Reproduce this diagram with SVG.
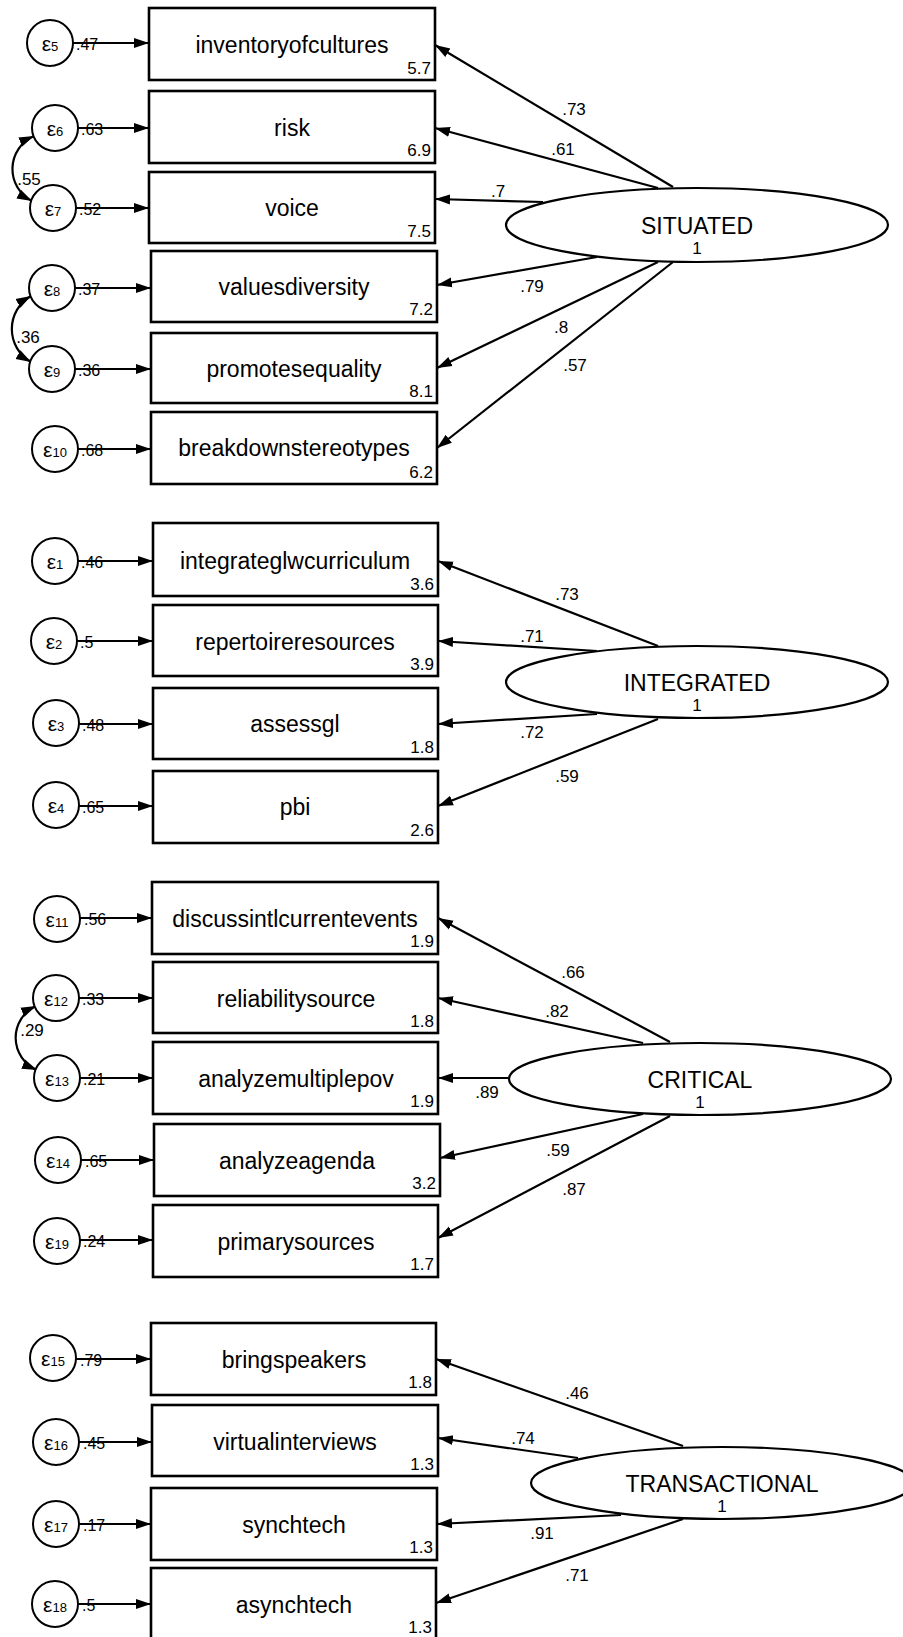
<svg xmlns="http://www.w3.org/2000/svg" width="903" height="1637" viewBox="0 0 903 1637">
<style>
text{font-family:"Liberation Sans",Arial,sans-serif;fill:#000}
.box{fill:#fff;stroke:#000;stroke-width:2.6}
.lat{fill:#fff;stroke:#000;stroke-width:2.2}
.err{fill:#fff;stroke:#000;stroke-width:2}
.lbl{font-size:23px;text-anchor:middle}
.val{font-size:17px;text-anchor:end}
.one{font-size:17px;text-anchor:middle}
.ld{font-size:17px;text-anchor:middle}
.el{font-size:16px}
.eps{text-anchor:middle;font-size:21px}
.sub{font-size:13px}
.c{fill:none;stroke:#000;stroke-width:2.2;marker-end:url(#ah)}
.cv{fill:none;stroke:#000;stroke-width:2.2;marker-start:url(#ah);marker-end:url(#ah)}
</style>
<defs>
<marker id="ah" markerUnits="userSpaceOnUse" markerWidth="16" markerHeight="12" refX="15" refY="6" orient="auto-start-reverse">
<path d="M0,1 L15,6 L0,11 Z" fill="#000"/>
</marker>
</defs>
<rect width="903" height="1637" fill="#fff"/>

<g id="connectors">
<!-- SITUATED factor loadings -->
<path class="c" d="M673,187 L435,45"/>
<path class="c" d="M658,188 L435,128"/>
<path class="c" d="M543,202 L435,199"/>
<path class="c" d="M597,257 L437,285"/>
<path class="c" d="M658,262 L437,368"/>
<path class="c" d="M673,262 L437,448"/>
<text class="ld" x="574" y="115">.73</text>
<text class="ld" x="563" y="155">.61</text>
<text class="ld" x="498" y="197">.7</text>
<text class="ld" x="532" y="292">.79</text>
<text class="ld" x="561" y="333">.8</text>
<text class="ld" x="575" y="371">.57</text>
<!-- SITUATED errors -->
<path class="c" d="M73,43 L149,43"/>
<path class="c" d="M78,128 L149,128"/>
<path class="c" d="M76,208 L149,208"/>
<path class="c" d="M75,288 L151,288"/>
<path class="c" d="M75,369 L151,369"/>
<path class="c" d="M78,449 L151,449"/>
<text class="el" x="76" y="50">.47</text>
<text class="el" x="81" y="135">.63</text>
<text class="el" x="79" y="215">.52</text>
<text class="el" x="78" y="295">.37</text>
<text class="el" x="78" y="376">.36</text>
<text class="el" x="81" y="456">.68</text>
<path class="cv" d="M34,136 A36,36 0 0 0 32,201"/>
<text class="ld" x="29" y="185">.55</text>
<path class="cv" d="M31,296 A38,38 0 0 0 31,362"/>
<text class="ld" x="28" y="343">.36</text>

<!-- INTEGRATED -->
<path class="c" d="M658,646 L438,561"/>
<path class="c" d="M597,651 L438,641"/>
<path class="c" d="M597,714 L438,724"/>
<path class="c" d="M658,719 L438,806"/>
<text class="ld" x="567" y="600">.73</text>
<text class="ld" x="532" y="642">.71</text>
<text class="ld" x="532" y="738">.72</text>
<text class="ld" x="567" y="782">.59</text>
<path class="c" d="M78,561 L153,561"/>
<path class="c" d="M77,641 L153,641"/>
<path class="c" d="M79,724 L153,724"/>
<path class="c" d="M79,806 L153,806"/>
<text class="el" x="81" y="568">.46</text>
<text class="el" x="80" y="648">.5</text>
<text class="el" x="82" y="731">.48</text>
<text class="el" x="82" y="813">.65</text>

<!-- CRITICAL -->
<path class="c" d="M670,1042 L438,918"/>
<path class="c" d="M643,1043 L438,998"/>
<path class="c" d="M509,1078 L438,1078"/>
<path class="c" d="M643,1114 L440,1158"/>
<path class="c" d="M670,1116 L438,1238"/>
<text class="ld" x="573" y="978">.66</text>
<text class="ld" x="557" y="1017">.82</text>
<text class="ld" x="487" y="1098">.89</text>
<text class="ld" x="558" y="1156">.59</text>
<text class="ld" x="574" y="1195">.87</text>
<path class="c" d="M80,918 L152,918"/>
<path class="c" d="M79,998 L153,998"/>
<path class="c" d="M80,1078 L153,1078"/>
<path class="c" d="M81,1160 L154,1160"/>
<path class="c" d="M80,1240 L153,1240"/>
<text class="el" x="84" y="925">.56</text>
<text class="el" x="82" y="1005">.33</text>
<text class="el" x="83" y="1085">.21</text>
<text class="el" x="85" y="1167">.65</text>
<text class="el" x="83" y="1247">.24</text>
<path class="cv" d="M36,1006 A35,35 0 0 0 37,1070"/>
<text class="ld" x="32" y="1036">.29</text>

<!-- TRANSACTIONAL -->
<path class="c" d="M683,1446 L436,1359"/>
<path class="c" d="M578,1458 L438,1438"/>
<path class="c" d="M621,1515 L437,1524"/>
<path class="c" d="M683,1519 L436,1603"/>
<text class="ld" x="577" y="1399">.46</text>
<text class="ld" x="523" y="1444">.74</text>
<text class="ld" x="542" y="1539">.91</text>
<text class="ld" x="577" y="1581">.71</text>
<path class="c" d="M76,1359 L151,1359"/>
<path class="c" d="M79,1442 L152,1442"/>
<path class="c" d="M79,1524 L151,1524"/>
<path class="c" d="M78,1604 L151,1604"/>
<text class="el" x="80" y="1366">.79</text>
<text class="el" x="83" y="1449">.45</text>
<text class="el" x="83" y="1531">.17</text>
<text class="el" x="82" y="1611">.5</text>
</g>

<!-- SITUATED nodes -->
<g id="SITUATED"><ellipse class="lat" cx="697" cy="225" rx="191" ry="37"/><text class="lbl" x="697" y="234">SITUATED</text><text class="one" x="697" y="254">1</text></g>
<g id="inventoryofcultures"><rect class="box" x="149" y="8" width="286" height="72"/><text class="lbl" x="292" y="53">inventoryofcultures</text><text class="val" x="431" y="74">5.7</text></g>
<g id="risk"><rect class="box" x="149" y="91" width="286" height="72"/><text class="lbl" x="292" y="136">risk</text><text class="val" x="431" y="156">6.9</text></g>
<g id="voice"><rect class="box" x="149" y="172" width="286" height="71"/><text class="lbl" x="292" y="216">voice</text><text class="val" x="431" y="237">7.5</text></g>
<g id="valuesdiversity"><rect class="box" x="151" y="251" width="286" height="71"/><text class="lbl" x="294" y="295">valuesdiversity</text><text class="val" x="433" y="315">7.2</text></g>
<g id="promotesequality"><rect class="box" x="151" y="333" width="286" height="70"/><text class="lbl" x="294" y="377">promotesequality</text><text class="val" x="433" y="397">8.1</text></g>
<g id="breakdownstereotypes"><rect class="box" x="151" y="412" width="286" height="72"/><text class="lbl" x="294" y="456">breakdownstereotypes</text><text class="val" x="433" y="478">6.2</text></g>
<g id="e5"><circle class="err" cx="50" cy="43" r="23"/><text class="eps" x="50" y="51"><tspan>ε</tspan><tspan class="sub">5</tspan></text></g>
<g id="e6"><circle class="err" cx="55" cy="128" r="23"/><text class="eps" x="55" y="136"><tspan>ε</tspan><tspan class="sub">6</tspan></text></g>
<g id="e7"><circle class="err" cx="53" cy="208" r="23"/><text class="eps" x="53" y="216"><tspan>ε</tspan><tspan class="sub">7</tspan></text></g>
<g id="e8"><circle class="err" cx="52" cy="288" r="23"/><text class="eps" x="52" y="296"><tspan>ε</tspan><tspan class="sub">8</tspan></text></g>
<g id="e9"><circle class="err" cx="52" cy="369" r="23"/><text class="eps" x="52" y="377"><tspan>ε</tspan><tspan class="sub">9</tspan></text></g>
<g id="e10"><circle class="err" cx="55" cy="449" r="23"/><text class="eps" x="55" y="457"><tspan>ε</tspan><tspan class="sub">10</tspan></text></g>

<!-- INTEGRATED nodes -->
<g id="INTEGRATED"><ellipse class="lat" cx="697" cy="682" rx="191" ry="36"/><text class="lbl" x="697" y="691">INTEGRATED</text><text class="one" x="697" y="711">1</text></g>
<g id="integrateglwcurriculum"><rect class="box" x="153" y="523" width="285" height="73"/><text class="lbl" x="295" y="569">integrateglwcurriculum</text><text class="val" x="434" y="590">3.6</text></g>
<g id="repertoireresources"><rect class="box" x="153" y="605" width="285" height="71"/><text class="lbl" x="295" y="650">repertoireresources</text><text class="val" x="434" y="670">3.9</text></g>
<g id="assessgl"><rect class="box" x="153" y="688" width="285" height="71"/><text class="lbl" x="295" y="732">assessgl</text><text class="val" x="434" y="753">1.8</text></g>
<g id="pbi"><rect class="box" x="153" y="771" width="285" height="72"/><text class="lbl" x="295" y="815">pbi</text><text class="val" x="434" y="836">2.6</text></g>
<g id="e1"><circle class="err" cx="55" cy="561" r="23"/><text class="eps" x="55" y="569"><tspan>ε</tspan><tspan class="sub">1</tspan></text></g>
<g id="e2"><circle class="err" cx="54" cy="641" r="23"/><text class="eps" x="54" y="649"><tspan>ε</tspan><tspan class="sub">2</tspan></text></g>
<g id="e3"><circle class="err" cx="56" cy="723" r="23"/><text class="eps" x="56" y="731"><tspan>ε</tspan><tspan class="sub">3</tspan></text></g>
<g id="e4"><circle class="err" cx="56" cy="805" r="23"/><text class="eps" x="56" y="813"><tspan>ε</tspan><tspan class="sub">4</tspan></text></g>

<!-- CRITICAL nodes -->
<g id="CRITICAL"><ellipse class="lat" cx="700" cy="1079" rx="191" ry="36"/><text class="lbl" x="700" y="1088">CRITICAL</text><text class="one" x="700" y="1108">1</text></g>
<g id="discussintlcurrentevents"><rect class="box" x="152" y="882" width="286" height="72"/><text class="lbl" x="295" y="927">discussintlcurrentevents</text><text class="val" x="434" y="947">1.9</text></g>
<g id="reliabilitysource"><rect class="box" x="153" y="962" width="285" height="71"/><text class="lbl" x="296" y="1007">reliabilitysource</text><text class="val" x="434" y="1027">1.8</text></g>
<g id="analyzemultiplepov"><rect class="box" x="153" y="1042" width="285" height="72"/><text class="lbl" x="296" y="1087">analyzemultiplepov</text><text class="val" x="434" y="1107">1.9</text></g>
<g id="analyzeagenda"><rect class="box" x="154" y="1124" width="286" height="72"/><text class="lbl" x="297" y="1169">analyzeagenda</text><text class="val" x="436" y="1189">3.2</text></g>
<g id="primarysources"><rect class="box" x="153" y="1205" width="285" height="72"/><text class="lbl" x="296" y="1250">primarysources</text><text class="val" x="434" y="1270">1.7</text></g>
<g id="e11"><circle class="err" cx="57" cy="919" r="23"/><text class="eps" x="57" y="927"><tspan>ε</tspan><tspan class="sub">11</tspan></text></g>
<g id="e12"><circle class="err" cx="56" cy="998" r="23"/><text class="eps" x="56" y="1006"><tspan>ε</tspan><tspan class="sub">12</tspan></text></g>
<g id="e13"><circle class="err" cx="57" cy="1078" r="23"/><text class="eps" x="57" y="1086"><tspan>ε</tspan><tspan class="sub">13</tspan></text></g>
<g id="e14"><circle class="err" cx="58" cy="1160" r="23"/><text class="eps" x="58" y="1168"><tspan>ε</tspan><tspan class="sub">14</tspan></text></g>
<g id="e19"><circle class="err" cx="57" cy="1241" r="23"/><text class="eps" x="57" y="1249"><tspan>ε</tspan><tspan class="sub">19</tspan></text></g>

<!-- TRANSACTIONAL nodes -->
<g id="TRANSACTIONAL"><ellipse class="lat" cx="722" cy="1483" rx="191" ry="36"/><text class="lbl" x="722" y="1492">TRANSACTIONAL</text><text class="one" x="722" y="1512">1</text></g>
<g id="bringspeakers"><rect class="box" x="151" y="1323" width="285" height="72"/><text class="lbl" x="294" y="1368">bringspeakers</text><text class="val" x="432" y="1388">1.8</text></g>
<g id="virtualinterviews"><rect class="box" x="152" y="1405" width="286" height="71"/><text class="lbl" x="295" y="1450">virtualinterviews</text><text class="val" x="434" y="1470">1.3</text></g>
<g id="synchtech"><rect class="box" x="151" y="1488" width="286" height="72"/><text class="lbl" x="294" y="1533">synchtech</text><text class="val" x="433" y="1553">1.3</text></g>
<g id="asynchtech"><rect class="box" x="151" y="1568" width="285" height="72"/><text class="lbl" x="294" y="1613">asynchtech</text><text class="val" x="432" y="1633">1.3</text></g>
<g id="e15"><circle class="err" cx="53" cy="1358" r="23"/><text class="eps" x="53" y="1366"><tspan>ε</tspan><tspan class="sub">15</tspan></text></g>
<g id="e16"><circle class="err" cx="56" cy="1442" r="23"/><text class="eps" x="56" y="1450"><tspan>ε</tspan><tspan class="sub">16</tspan></text></g>
<g id="e17"><circle class="err" cx="56" cy="1524" r="23"/><text class="eps" x="56" y="1532"><tspan>ε</tspan><tspan class="sub">17</tspan></text></g>
<g id="e18"><circle class="err" cx="55" cy="1604" r="23"/><text class="eps" x="55" y="1612"><tspan>ε</tspan><tspan class="sub">18</tspan></text></g>
</svg>
